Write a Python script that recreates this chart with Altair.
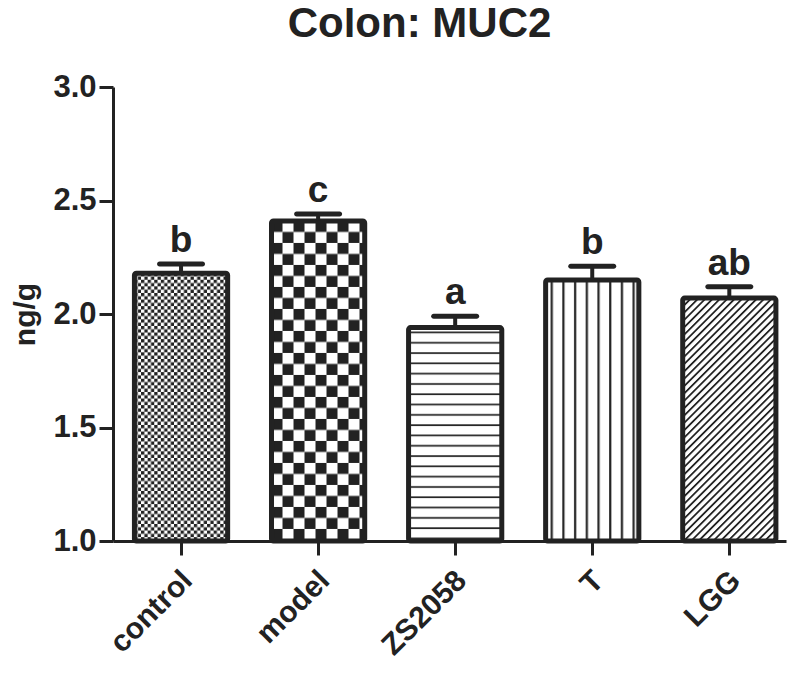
import base64
import altair as alt
import pandas as pd

# ---- data ----
groups = ["control", "model", "ZS2058", "T", "LGG"]
means = [2.18, 2.41, 1.94, 2.15, 2.07]
errors = [0.04, 0.03, 0.05, 0.06, 0.05]
letters = ["b", "c", "a", "b", "ab"]

FONT = "Liberation Sans, Arial, Helvetica, sans-serif"
INK = "#222"


def svg_uri(pattern):
    svg = (
        "<svg xmlns='http://www.w3.org/2000/svg'><defs>" + pattern + "</defs>"
        "<rect width='100%' height='100%' fill='white'/>"
        "<rect width='100%' height='100%' fill='url(#p)'/></svg>"
    )
    return "data:image/svg+xml;base64," + base64.b64encode(svg.encode()).decode()


pattern_styles = {
    "control": "<pattern id='p' width='6.6' height='6.6' patternUnits='userSpaceOnUse'>"
               "<rect width='3.3' height='3.3' fill='#222'/>"
               "<rect x='3.3' y='3.3' width='3.3' height='3.3' fill='#222'/></pattern>",
    "model": "<pattern id='p' width='22' height='22' patternUnits='userSpaceOnUse'>"
             "<rect width='11' height='11' fill='#222'/>"
             "<rect x='11' y='11' width='11' height='11' fill='#222'/></pattern>",
    "ZS2058": "<pattern id='p' width='10' height='10.3' patternUnits='userSpaceOnUse'>"
              "<rect y='4' width='10' height='1.7' fill='#222'/></pattern>",
    "T": "<pattern id='p' width='11.7' height='10' patternUnits='userSpaceOnUse'>"
         "<rect x='5' width='2.2' height='10' fill='#222'/></pattern>",
    "LGG": "<pattern id='p' width='5.2' height='10' patternUnits='userSpaceOnUse' "
           "patternTransform='rotate(45)'><rect width='1.8' height='10' fill='#222'/></pattern>",
}

df = pd.DataFrame({"group": groups, "mean": means, "err": errors, "letter": letters})
df["top"] = df["mean"] + df["err"]
df["pattern"] = [svg_uri(pattern_styles[g]) for g in groups]

x = alt.X(
    "group:N",
    sort=groups,
    scale=alt.Scale(paddingInner=0.32, paddingOuter=0.115, align=0.68),
    axis=alt.Axis(
        title=None,
        labelAngle=315,
        labelAlign="right",
        labelBaseline="top",
        labelFontSize=30,
        labelFontWeight="bold",
        labelFont=FONT,
        labelColor=INK,
        labelPadding=10,
        labelOffset=-4,
        domainColor=INK,
        domainWidth=3,
        tickColor=INK,
        tickWidth=3,
        tickSize=14,
        grid=False,
    ),
)

yscale = alt.Scale(domain=[1.0, 3.0], nice=False, zero=False)
y_axis = alt.Axis(
    values=[1.0, 1.5, 2.0, 2.5, 3.0],
    format=".1f",
    title="ng/g",
    titleFontSize=30,
    titleFontWeight="bold",
    titleFont=FONT,
    titleColor=INK,
    titlePadding=12,
    labelFontSize=31,
    labelFontWeight="bold",
    labelFont=FONT,
    labelColor=INK,
    labelPadding=3,
    domainColor=INK,
    domainWidth=3,
    tickColor=INK,
    tickWidth=3,
    tickSize=14,
    grid=False,
)

base = alt.Chart(df)

fills = base.mark_image(aspect=False).encode(
    x=x,
    y=alt.Y("mean:Q", scale=yscale, axis=y_axis),
    y2=alt.datum(1.0),
    url="pattern:N",
)

bars = base.mark_bar(
    fillOpacity=0, stroke=INK, strokeWidth=5, cornerRadius=2
).encode(
    x=x,
    y=alt.Y("mean:Q", scale=yscale, axis=y_axis),
    y2=alt.datum(1.0),
)

err_rule = base.mark_rule(color=INK, strokeWidth=4).encode(
    x=x, y=alt.Y("mean:Q", scale=yscale), y2="top:Q"
)

caps = base.mark_tick(color=INK, thickness=5, size=48, cornerRadius=2.5, opacity=1).encode(
    x=x, y=alt.Y("top:Q", scale=yscale)
)

labels = base.mark_text(
    fontSize=37, fontWeight="bold", font=FONT, color=INK, baseline="alphabetic", dy=-12
).encode(x=x, y=alt.Y("top:Q", scale=yscale), text="letter:N")

chart = (
    alt.layer(fills, bars, err_rule, caps, labels)
    .properties(
        width=673,
        height=454,
        autosize="none",
        padding={"left": 105, "top": 79, "right": 5, "bottom": 124},
        title=alt.TitleParams(
            "Colon: MUC2",
            fontSize=42,
            fontWeight="bold",
            font=FONT,
            color=INK,
            anchor="middle",
            dx=-30,
            offset=25,
        ),
    )
    .configure_view(stroke=None)
)

chart.save("out.html", embed_options={"renderer": "svg", "actions": False})
